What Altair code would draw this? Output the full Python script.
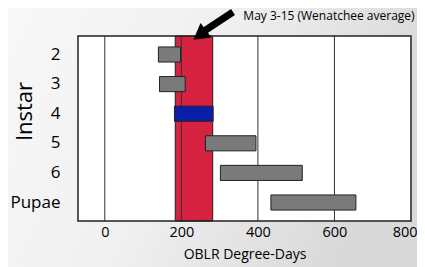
import altair as alt
import pandas as pd

stages = ["2", "3", "4", "5", "6", "Pupae"]
start_dd = [140, 143, 182, 263, 302, 434]
end_dd = [198, 210, 283, 395, 516, 656]
bar_colors = ["#7a7a7a", "#7a7a7a", "#0a1eaa", "#7a7a7a", "#7a7a7a", "#7a7a7a"]

window_start = [184]
window_end = [282]
grid_vals = [0, 200, 400, 600]
tick_vals = [0, 200, 400, 600, 800]

annot_text = ["May 3-15 (Wenatchee average)"]
annot_x = [362]
arrow_tail_x = [335]
arrow_head_x = [248]

FONT = "Open Sans"

bars_df = pd.DataFrame({"stage": stages, "start": start_dd, "end": end_dd, "color": bar_colors})
win_df = pd.DataFrame({"s": window_start, "e": window_end})
grid_df = pd.DataFrame({"v": grid_vals})
annot_df = pd.DataFrame({"t": annot_text, "x": annot_x})
arrow_df = pd.DataFrame({"x": arrow_tail_x, "x2": arrow_head_x})

xscale = alt.Scale(domain=[-70, 800], nice=False, zero=False)

bg = alt.Chart(pd.DataFrame({"a": [0]})).mark_rect(
    clip=False,
    color=alt.Gradient(
        gradient="linear", x1=0, y1=0, x2=1, y2=0.3,
        stops=[alt.GradientStop(offset=0, color="#f8f8f8"),
               alt.GradientStop(offset=0.5, color="#f0f0f0"),
               alt.GradientStop(offset=1, color="#d9d9d9")],
    ),
).encode(x=alt.value(-70), x2=alt.value(339), y=alt.value(-28), y2=alt.value(231))

plotbg = alt.Chart(pd.DataFrame({"a": [0]})).mark_rect(color="white").encode(
    x=alt.value(0), x2=alt.value(333), y=alt.value(0), y2=alt.value(185)
)

border = alt.Chart(pd.DataFrame({"a": [0]})).mark_rect(
    fill=None, stroke="#222", strokeWidth=1.5, filled=False
).encode(x=alt.value(0), x2=alt.value(333), y=alt.value(0), y2=alt.value(185))

window = alt.Chart(win_df).mark_rect(color="#d72141", stroke="#222", strokeWidth=1).encode(
    x=alt.X("s:Q", scale=xscale,
            axis=alt.Axis(values=tick_vals, grid=False, ticks=False, domain=False,
                          labelFont=FONT, labelFontSize=14.5, labelColor="black",
                          labelPadding=4, title="OBLR Degree-Days",
                          titleFont=FONT, titleFontSize=14, titleFontWeight="normal",
                          titleColor="black", titlePadding=9, labelFlush=True,
                          labelFlushOffset=6, zindex=1)),
    x2="e:Q",
)

grid = alt.Chart(grid_df).mark_rule(color="#333", strokeWidth=1).encode(
    x=alt.X("v:Q", scale=xscale)
)

bars = alt.Chart(bars_df).mark_bar(stroke="#222", strokeWidth=1).encode(
    y=alt.Y("stage:N", sort=stages,
            scale=alt.Scale(paddingInner=0.49, paddingOuter=0.37),
            axis=alt.Axis(ticks=False, domain=False, labelFont=FONT, labelFontSize=17,
                          labelColor="black", labelPadding=18, title="Instar",
                          titleFont=FONT, titleFontSize=22, titleFontWeight="normal",
                          titleColor="black", titleX=-42, titleY=75, titleAngle=270,
                          titleBaseline="bottom", titleAlign="center", zindex=1)),
    x=alt.X("start:Q", scale=xscale),
    x2="end:Q",
    color=alt.Color("color:N", scale=None),
)

shaft = alt.Chart(arrow_df).mark_rule(color="black", strokeWidth=7, clip=False).encode(
    x=alt.X("x:Q", scale=xscale), x2="x2:Q", y=alt.value(-24), y2=alt.value(-2)
)
head = alt.Chart(arrow_df).mark_point(
    shape="triangle-up", filled=True, color="black", size=330, angle=233, opacity=1, clip=False
).encode(x=alt.X("x2:Q", scale=xscale), y=alt.value(-1))

annot = alt.Chart(annot_df).mark_text(
    font=FONT, fontSize=12, align="left", baseline="middle", color="black", clip=False
).encode(x=alt.X("x:Q", scale=xscale), y=alt.value(-20), text="t:N")

chart = alt.layer(bg, plotbg, window, grid, bars, border, shaft, head, annot).properties(
    width=333, height=185,
    autosize=alt.AutoSizeParams(type="none"),
    padding={"left": 70, "top": 28, "right": 6, "bottom": 46},
).configure_view(stroke=None).configure(background="#eeeeee")

chart.save("out.html", embed_options={"renderer": "svg", "actions": False})
